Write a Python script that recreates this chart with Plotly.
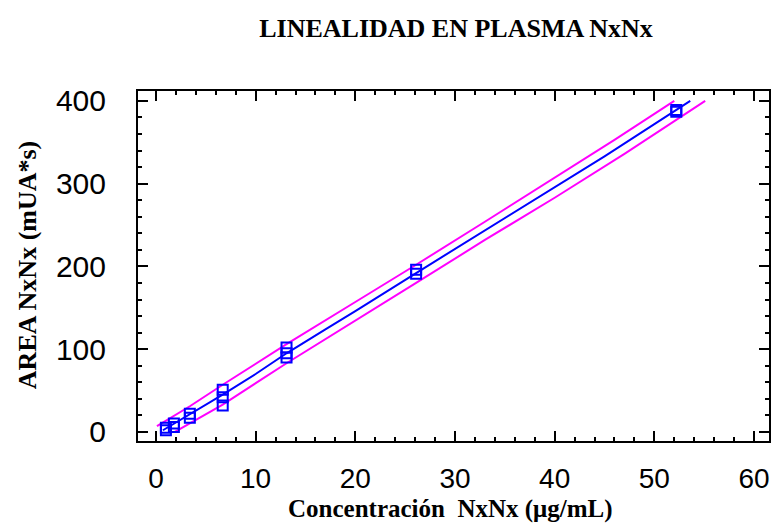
import plotly.graph_objects as go

# Observed data (concentration, area)
conc = [1.0, 1.0, 1.8, 1.8, 3.4, 3.4, 6.7, 6.7, 6.7, 13.1, 13.1, 13.1, 26.1, 26.1, 52.2, 52.2]
area = [2, 5, 6, 10, 17, 22, 32, 42, 51, 90, 95, 102, 191, 196, 387, 389]

# Fitted line
fit_x = [0.7, 3.4, 6.7, 10, 13.1, 17, 20, 26.1, 30, 35, 38, 45, 50, 53.6]
fit_y = [2, 21, 45, 70, 95, 124, 146, 192, 221, 258, 280, 333, 372, 400]

# Prediction limits
upper_x = [0.1, 3.4, 6.7, 13.1, 20, 26.1, 33, 40, 46, 52.0]
upper_y = [7, 31, 57, 106, 157, 202, 254, 307, 353, 400]
lower_x = [1.9, 3.4, 6.7, 13.1, 20, 26.1, 33, 40, 47, 55.1]
lower_y = [0, 10, 33, 83, 134, 180, 232, 283, 336, 400]

x_ticks = [0, 10, 20, 30, 40, 50, 60]
y_ticks = [0, 100, 200, 300, 400]

fig = go.Figure()
fig.add_trace(go.Scatter(x=upper_x, y=upper_y, mode="lines",
                         line=dict(color="#FF00FF", width=2), showlegend=False))
fig.add_trace(go.Scatter(x=lower_x, y=lower_y, mode="lines",
                         line=dict(color="#FF00FF", width=2), showlegend=False))
fig.add_trace(go.Scatter(x=fit_x, y=fit_y, mode="lines",
                         line=dict(color="#0000FF", width=2), showlegend=False))
fig.add_trace(go.Scatter(x=conc, y=area, mode="markers",
                         marker=dict(symbol="square-open", size=10, color="#0000FF",
                                     line=dict(width=2, color="#0000FF")),
                         showlegend=False))

serif = "Liberation Serif, Times New Roman, serif"
sans = "Liberation Sans, Arial, sans-serif"

axis_common = dict(
    showline=True, linecolor="black", linewidth=2, mirror="allticks",
    ticks="inside", ticklen=10, tickwidth=2, tickcolor="black",
    showgrid=False, zeroline=False,
)

fig.update_xaxes(range=[-1.8, 61.5], tickvals=x_ticks, ticktext=[str(v) for v in x_ticks],
                 minor=dict(dtick=2, ticks="inside", ticklen=4, tickwidth=2, tickcolor="black", showgrid=False),
                 ticklabelstandoff=11, tickfont=dict(family=sans, size=28, color="black"),
                 **axis_common)
fig.update_yaxes(range=[-11, 412], tickvals=y_ticks, ticktext=[str(v) for v in y_ticks],
                 minor=dict(dtick=20, ticks="inside", ticklen=4, tickwidth=2, tickcolor="black", showgrid=False),
                 ticklabelstandoff=24, tickfont=dict(family=sans, size=30, color="black"),
                 **axis_common)

fig.update_layout(
    width=772, height=523,
    margin=dict(l=138, r=1, t=91, b=82),
    paper_bgcolor="white", plot_bgcolor="white",
    title=dict(text="<b>LINEALIDAD EN PLASMA NxNx</b>", x=0.504, xref="paper",
               y=1 - 28 / 523, yref="container", xanchor="center", yanchor="middle",
               font=dict(family=serif, size=26, color="black")),
    annotations=[
        dict(text="<b>Concentración\u00a0 NxNx (μg/mL)</b>", xref="paper", yref="paper",
             x=0.496, y=-0.194, xanchor="center", yanchor="middle", showarrow=False,
             font=dict(family=serif, size=25, color="black")),
        dict(text="<b>AREA NxNx (mUA*s)</b>", xref="paper", yref="paper",
             x=-0.174, y=0.503, xanchor="center", yanchor="middle", showarrow=False,
             textangle=-90, font=dict(family=serif, size=26, color="black")),
    ],
)

fig.write_html("out.html")
